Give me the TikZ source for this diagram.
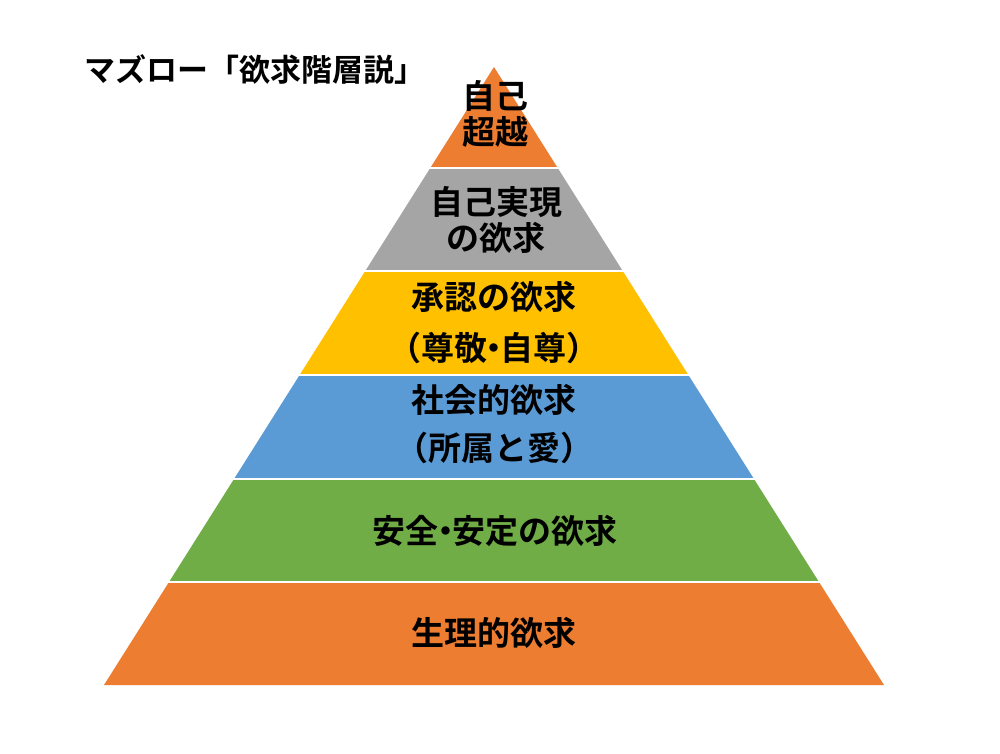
\documentclass[tikz,border=0pt]{standalone}
\usepackage{fontspec}
\newfontfamily\jp{Noto Sans CJK JP}[BoldFont={* Bold}]
\usetikzlibrary{calc}
\definecolor{cOrange}{HTML}{ED7D31}
\definecolor{cGray}{HTML}{A5A5A5}
\definecolor{cYellow}{HTML}{FFC000}
\definecolor{cBlue}{HTML}{5B9BD5}
\definecolor{cGreen}{HTML}{70AD47}
\newcommand{\ndot}{\kern-0.3em・\kern-0.3em}
\begin{document}
\begin{tikzpicture}[x=1pt,y=-1pt,
  lbl/.style={font=\jp\bfseries\fontsize{33}{38}\selectfont, text=black, inner sep=0pt},
  ttl/.style={font=\jp\bfseries\fontsize{31}{36}\selectfont, text=black, inner sep=0pt},
  gapline/.style={white, line width=2.5pt}]
\useasboundingbox (0,0) rectangle (1000,754);
\fill[white] (0,0) rectangle (1000,754);
\coordinate (A) at (494,67);
\coordinate (L) at (104,685);
\coordinate (R) at (884,685);
\foreach \ya/\yb/\c in {67/168/cOrange,168/271/cGray,271/375/cYellow,375/479/cBlue,479/582/cGreen,582/685/cOrange}{
  \fill[\c] ($(A)!{(\ya-67)/618}!(L)$) -- ($(A)!{(\yb-67)/618}!(L)$) -- ($(A)!{(\yb-67)/618}!(R)$) -- ($(A)!{(\ya-67)/618}!(R)$) -- cycle;
}
\foreach \y in {168,271,375,479,582}{
  \draw[gapline] (90,\y) -- (910,\y);
}
\node[ttl, anchor=west] (title) at (84,70) {マズロー「欲求階層説」};
\node[lbl] (t1a) at (495,96) {自己};
\node[lbl] (t1b) at (495,132) {超越};
\node[lbl] (t2a) at (496,202) {自己実現};
\node[lbl] (t2b) at (496,238) {の欲求};
\node[lbl] (t3a) at (494,297) {承認の欲求};
\node[lbl] (t3b) at (494,348) {（尊敬\ndot 自尊）};
\node[lbl] (t4a) at (494,400) {社会的欲求};
\node[lbl] (t4b) at (494,448) {（所属と愛）};
\node[lbl] (t5) at (495,531) {安全\ndot 安定の欲求};
\node[lbl] (t6) at (494,633) {生理的欲求};
\end{tikzpicture}
\end{document}
